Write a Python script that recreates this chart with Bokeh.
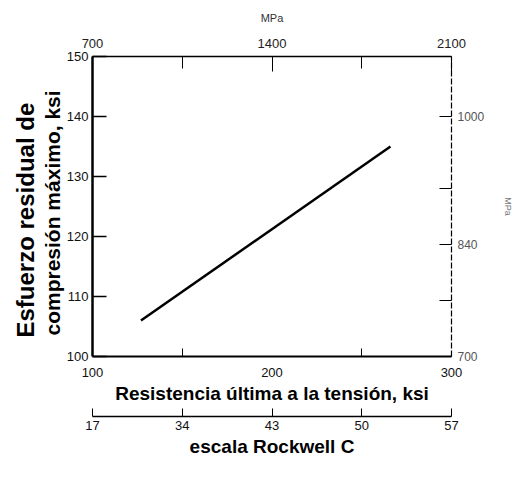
from bokeh.plotting import figure
from bokeh.models import LinearAxis, Range1d, FixedTicker, Title
from bokeh.embed import file_html
from bokeh.resources import INLINE

# Data
uts_ksi = [127, 266]          # Resistencia última a la tensión, ksi
stress_ksi = [106, 135]       # Esfuerzo residual de compresión máximo, ksi

x_ticks_ksi = [100, 200, 300]
x_minor_ksi = [150, 250]
y_ticks_ksi = [100, 110, 120, 130, 140, 150]
top_ticks_mpa = [700, 1400, 2100]
top_minor_mpa = [1050, 1750]
right_ticks_mpa = [700, 840, 1000]
right_minor_mpa = [770, 910]
rockwell_pos_ksi = [100, 150, 200, 250, 300]
rockwell_labels = ["17", "34", "43", "50", "57"]
y_label_lines = ["Esfuerzo residual de", "compresión máximo, ksi"]

FONT = "Liberation Sans"

p = figure(width=516, height=462, x_range=Range1d(100, 300), y_range=Range1d(100, 150),
           output_backend="svg", toolbar_location=None,
           x_axis_location=None, y_axis_location=None,
           min_border_left=92, min_border_right=63, min_border_top=56, min_border_bottom=106)
p.extra_x_ranges = {"mpa": Range1d(700, 2100)}
p.extra_y_ranges = {"mpa": Range1d(700, 1075)}
p.xgrid.visible = False
p.ygrid.visible = False
p.outline_line_color = None
p.background_fill_color = "white"
p.border_fill_color = "white"


def style(ax, label_size="13px", color="#111111"):
    ax.major_label_text_font = FONT
    ax.major_label_text_font_size = label_size
    ax.major_label_text_color = color
    ax.axis_label_text_font = FONT
    ax.axis_label_text_font_style = "bold"
    ax.axis_label_text_color = "#000000"
    ax.axis_line_color = "black"
    ax.major_tick_line_color = "black"
    ax.minor_tick_line_color = "black"
    ax.major_tick_out = 0
    ax.minor_tick_out = 0


# Left axis (ksi)
left = LinearAxis(ticker=FixedTicker(ticks=y_ticks_ksi))
style(left)
left.axis_line_width = 2.5
left.major_tick_in = 14
left.major_tick_line_width = 1.5
left.major_label_standoff = 4
p.add_layout(left, "left")

# two-line left label, closest line first
t2 = Title(text=y_label_lines[1], text_font=FONT, text_font_style="bold", text_color="black",
           text_font_size="21px", align="left", standoff=0, offset=21)
t1 = Title(text=y_label_lines[0], text_font=FONT, text_font_style="bold", text_color="black",
           text_font_size="24px", align="left", standoff=0, offset=19)
p.add_layout(t2, "left")
p.add_layout(t1, "left")

# Right axis (MPa)
right = LinearAxis(y_range_name="mpa",
                   ticker=FixedTicker(ticks=right_ticks_mpa, minor_ticks=right_minor_mpa),
                   axis_label="MPa")
style(right, label_size="12px", color="#555555")
right.axis_line_dash = "6 2"
right.axis_line_width = 1.2
right.major_tick_in = 12
right.minor_tick_in = 12
right.major_label_standoff = 6
right.axis_label_text_font_size = "9px"
right.axis_label_text_font_style = "normal"
right.axis_label_text_color = "#777777"
right.axis_label_standoff = 16
p.add_layout(right, "right")

# Top axis (MPa)
top = LinearAxis(x_range_name="mpa",
                 ticker=FixedTicker(ticks=top_ticks_mpa, minor_ticks=top_minor_mpa),
                 axis_label="MPa")
style(top, label_size="13px", color="#222222")
top.axis_line_width = 1.5
top.major_tick_in = 15
top.minor_tick_in = 12
top.major_label_standoff = 9
top.axis_label_text_font_size = "11px"
top.axis_label_text_font_style = "normal"
top.axis_label_text_color = "#333333"
top.axis_label_standoff = 12
p.add_layout(top, "above")

# Bottom axis (ksi)
bottom = LinearAxis(ticker=FixedTicker(ticks=x_ticks_ksi, minor_ticks=x_minor_ksi),
                    axis_label="Resistencia última a la tensión, ksi")
style(bottom)
bottom.axis_line_width = 2
bottom.major_tick_in = 0
bottom.minor_tick_in = 8
bottom.major_label_standoff = 11
bottom.axis_label_text_font_size = "19px"
bottom.axis_label_standoff = 3
p.add_layout(bottom, "below")

spacer = Title(text=" ", text_font_size="6px", standoff=2)
p.add_layout(spacer, "below")

# Rockwell C scale
rock = LinearAxis(ticker=FixedTicker(ticks=rockwell_pos_ksi),
                  major_label_overrides={k: v for k, v in zip(rockwell_pos_ksi, rockwell_labels)},
                  axis_label="escala Rockwell C")
style(rock)
rock.axis_line_width = 1.5
rock.major_tick_in = 8
rock.major_label_standoff = 4
rock.axis_label_text_font_size = "19px"
rock.axis_label_standoff = 3
p.add_layout(rock, "below")

p.line(uts_ksi, stress_ksi, line_color="black", line_width=2.5)

open("out.html", "w").write(file_html(p, INLINE))
